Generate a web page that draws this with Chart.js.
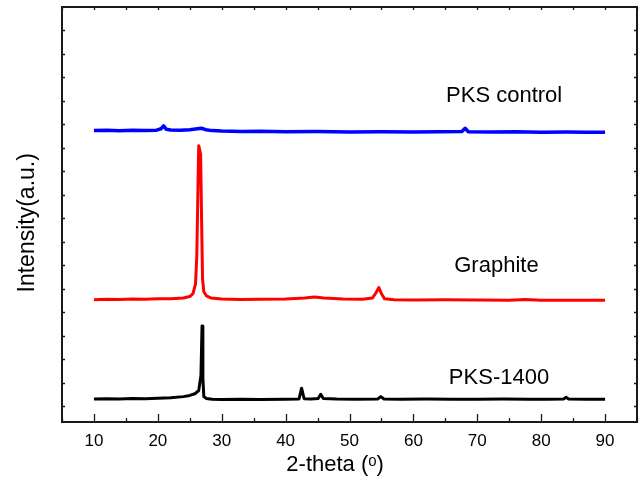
<!DOCTYPE html>
<html>
<head>
<meta charset="utf-8">
<script src="https://cdn.jsdelivr.net/npm/chart.js@4"></script>
<style>
  body { margin: 0; background: #fff; }
</style>
</head>
<body>
<canvas id="xrd" width="641" height="486"></canvas>
<script>
// XRD patterns (intensity is stacked/offset, a.u.)
const blueX = [10, 12, 14, 16, 18, 19.8, 20.5, 20.9, 21.3, 22, 23.5, 25, 26.2, 26.8, 27.5, 28.5, 30, 33, 36, 40, 45, 50, 55, 60, 64, 67.6, 68.1, 68.6, 72, 76, 80, 84, 87, 90];
const blueY = [11.72, 11.74, 11.71, 11.73, 11.72, 11.74, 11.80, 11.92, 11.78, 11.75, 11.74, 11.76, 11.80, 11.82, 11.76, 11.72, 11.70, 11.68, 11.69, 11.67, 11.68, 11.66, 11.67, 11.66, 11.67, 11.68, 11.82, 11.67, 11.66, 11.67, 11.65, 11.66, 11.65, 11.65];

const redX = [10, 12, 14, 16, 18, 20, 22, 24, 25, 25.5, 25.9, 26.1, 26.25, 26.4, 26.55, 26.7, 26.85, 27.0, 27.2, 27.6, 28.3, 30, 33, 36, 40, 43, 44.5, 46, 49, 52, 53.6, 54.1, 54.6, 55.0, 55.5, 57, 60, 65, 70, 75, 77.5, 80, 85, 90];
const redY = [4.52, 4.54, 4.53, 4.55, 4.54, 4.56, 4.57, 4.60, 4.66, 4.78, 5.2, 6.4, 8.8, 11.08, 10.9, 10.69, 7.9, 5.4, 4.86, 4.69, 4.60, 4.55, 4.53, 4.54, 4.55, 4.60, 4.64, 4.60, 4.55, 4.54, 4.60, 4.80, 5.04, 4.78, 4.56, 4.52, 4.51, 4.52, 4.51, 4.50, 4.53, 4.50, 4.50, 4.50];

const blackX = [10, 12, 14, 16, 18, 20, 22, 24, 25, 25.8, 26.4, 26.75, 26.92, 27.05, 27.2, 27.6, 28.5, 30, 33, 36, 40, 42.1, 42.5, 42.9, 44, 45.1, 45.5, 45.9, 48, 51, 54.4, 54.9, 55.4, 58, 62, 66, 70, 74, 78, 81, 83.5, 83.9, 84.3, 87, 90];
const blackY = [0.30, 0.31, 0.30, 0.32, 0.31, 0.33, 0.35, 0.40, 0.45, 0.52, 0.66, 1.3, 3.41, 1.2, 0.40, 0.32, 0.29, 0.28, 0.29, 0.28, 0.29, 0.30, 0.76, 0.31, 0.30, 0.32, 0.50, 0.32, 0.30, 0.29, 0.30, 0.40, 0.30, 0.29, 0.30, 0.29, 0.29, 0.30, 0.29, 0.29, 0.30, 0.37, 0.30, 0.29, 0.29];

// curve labels: text and where it sits (data coords)
const labelText = ["PKS control", "Graphite", "PKS-1400"];
const labelX = [74.2, 73.0, 73.4];
const labelY = [13.2, 5.97, 1.19];

const xTickLabels = [10, 20, 30, 40, 50, 60, 70, 80, 90];
const xTitle = "2-theta (ᵒ)";
const yTitle = "Intensity(a.u.)";

function toPoints(xs, ys) {
  return xs.map(function (x, i) { return { x: x, y: ys[i] }; });
}

const font = "'Liberation Sans', Arial, sans-serif";

// frame + inward tick marks + axis titles + curve labels
const framePlugin = {
  id: "frame",
  afterDraw(chart) {
    const ctx = chart.ctx;
    const a = chart.chartArea;
    const xs = chart.scales.x;
    const ys = chart.scales.y;
    ctx.save();
    ctx.strokeStyle = "#1a1a1a";
    ctx.lineWidth = 1.3;
    xs.ticks.forEach(function (t) {
      const px = Math.round(xs.getPixelForValue(t.value)) + 0.5;
      const major = t.value % 10 === 0;
      ctx.beginPath();
      ctx.moveTo(px, a.bottom);
      ctx.lineTo(px, a.bottom - (major ? 8 : 4));
      ctx.moveTo(px, a.top);
      ctx.lineTo(px, a.top + 3);
      ctx.stroke();
    });
    ys.ticks.forEach(function (t) {
      if (!Number.isInteger(t.value)) return;
      const py = Math.round(ys.getPixelForValue(t.value)) + 0.5;
      ctx.beginPath();
      ctx.moveTo(a.left, py);
      ctx.lineTo(a.left + 3, py);
      ctx.moveTo(a.right, py);
      ctx.lineTo(a.right - 3, py);
      ctx.stroke();
    });
    ctx.lineWidth = 2;
    ctx.strokeRect(a.left, a.top, a.right - a.left, a.bottom - a.top);

    ctx.fillStyle = "#000";
    ctx.textAlign = "center";
    ctx.textBaseline = "middle";
    ctx.font = "22px " + font;
    labelText.forEach(function (txt, i) {
      ctx.fillText(txt, xs.getPixelForValue(labelX[i]), ys.getPixelForValue(labelY[i]));
    });

    // axis titles
    ctx.font = "22px " + font;
    ctx.fillText(xTitle, a.left + (a.right - a.left) * 0.475, a.bottom + 43);
    ctx.save();
    ctx.translate(28, a.top + (a.bottom - a.top) * 0.52);
    ctx.rotate(-Math.PI / 2);
    ctx.font = "23px " + font;
    ctx.fillText(yTitle, 0, 0);
    ctx.restore();
    ctx.restore();
  }
};

new Chart(document.getElementById("xrd"), {
  type: "line",
  data: {
    datasets: [
      { label: "PKS control", data: toPoints(blueX, blueY), borderColor: "#0000ff", borderWidth: 3.5 },
      { label: "Graphite", data: toPoints(redX, redY), borderColor: "#ff0000", borderWidth: 3 },
      { label: "PKS-1400", data: toPoints(blackX, blackY), borderColor: "#000000", borderWidth: 3 }
    ]
  },
  options: {
    responsive: false,
    animation: false,
    layout: { padding: { top: 7, right: 4, left: 0, bottom: 0 } },
    elements: { point: { radius: 0 }, line: { tension: 0, borderJoinStyle: "round" } },
    plugins: { legend: { display: false }, tooltip: { enabled: false } },
    scales: {
      x: {
        type: "linear",
        min: 5,
        max: 95,
        grid: { display: false, drawTicks: false },
        border: { display: false },
        ticks: {
          stepSize: 5,
          autoSkip: false,
          maxRotation: 0,
          padding: 9,
          color: "#000",
          font: { family: font, size: 17 },
          callback: function (v) { return xTickLabels.indexOf(v) >= 0 ? String(v) : ""; }
        },
        afterFit: function (s) {
          s.height = 64;
          s.paddingLeft = 0;
          s.paddingRight = 0;
        }
      },
      y: {
        min: -0.68,
        max: 16.98,
        grid: { display: false, drawTicks: false },
        border: { display: false },
        ticks: { display: false, stepSize: 1 },
        afterFit: function (s) {
          s.width = 62;
          s.paddingTop = 0;
          s.paddingBottom = 0;
        }
      }
    }
  },
  plugins: [framePlugin]
});
</script>
</body>
</html>
